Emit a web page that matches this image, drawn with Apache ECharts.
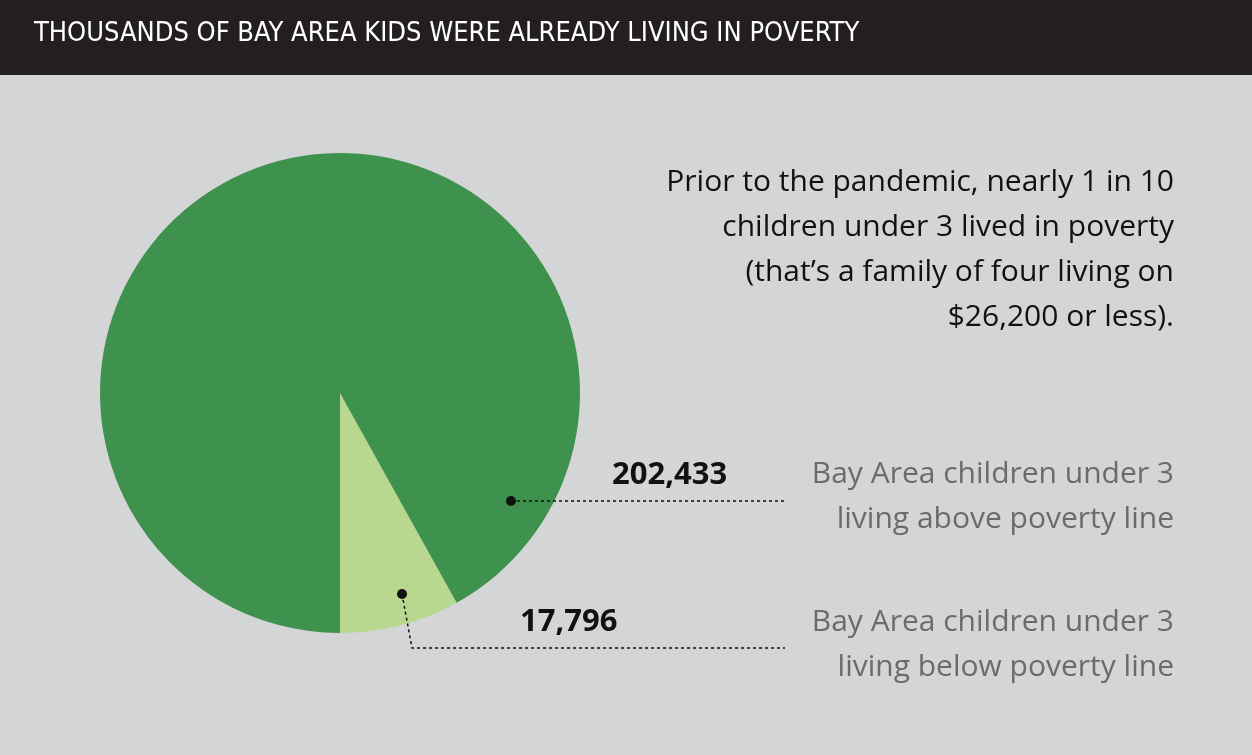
<!DOCTYPE html>
<html>
<head>
<meta charset="utf-8" />
<title>Bay Area kids in poverty</title>
<script src="https://cdn.jsdelivr.net/npm/echarts@6/dist/echarts.min.js"></script>
<style>
  html, body { margin: 0; padding: 0; background: #d4d5d7; }
  #main { width: 1252px; height: 755px; }
</style>
</head>
<body>
<div id="main"></div>
<script type="text/javascript">
var categories = ['Below poverty line', 'Above poverty line'];
var values = [17796, 202433];
var valueLabels = ['17,796', '202,433'];
var colors = ['#b8d890', '#3e924d'];

var chart = echarts.init(document.getElementById('main'));

var txt = '#6b6b6b';
var option = {
  backgroundColor: '#d4d5d7',
  animation: false,
  series: [{
    type: 'pie',
    center: [340, 393],
    radius: 240,
    startAngle: 270,
    clockwise: false,
    label: { show: false },
    labelLine: { show: false },
    itemStyle: { borderWidth: 0 },
    data: categories.map(function (c, i) {
      return { name: c, value: values[i], itemStyle: { color: colors[i] } };
    })
  }],
  graphic: [
    { type: 'rect', z: 100, shape: { x: 0, y: 0, width: 1252, height: 75 }, style: { fill: '#231f20' } },
    { type: 'text', z: 101, x: 34, y: 20, style: {
      text: 'THOUSANDS OF BAY AREA KIDS WERE ALREADY LIVING IN POVERTY',
      fill: '#fff', font: '27px "DejaVu Sans Condensed", "Liberation Sans Narrow", sans-serif' } },
    { type: 'text', z: 100, x: 1174, y: 160, style: {
      text: 'Prior to the pandemic, nearly 1 in 10\nchildren under 3 lived in poverty\n(that\u2019s a family of four living on\n$26,200 or less).',
      align: 'right', fill: '#111', lineHeight: 45, font: '500 30px "Open Sans", sans-serif' } },
    { type: 'text', z: 100, x: 1174, y: 452, style: {
      text: 'Bay Area children under 3\nliving above poverty line', align: 'right', fill: txt, lineHeight: 45,
      font: '500 30px "Open Sans", sans-serif' } },
    { type: 'text', z: 100, x: 1174, y: 600, style: {
      text: 'Bay Area children under 3\nliving below poverty line', align: 'right', fill: txt, lineHeight: 45,
      font: '500 30px "Open Sans", sans-serif' } },
    { type: 'text', z: 100, x: 612, y: 460, style: { text: valueLabels[1], fill: '#111', font: 'bold 31px "Open Sans", sans-serif' } },
    { type: 'text', z: 100, x: 520, y: 607, style: { text: valueLabels[0], fill: '#111', font: 'bold 31px "Open Sans", sans-serif' } },
    { type: 'polyline', z: 100, shape: { points: [[511, 501], [785, 501]] }, style: { stroke: '#111', lineWidth: 1.5, lineDash: [3, 3] } },
    { type: 'circle', z: 101, shape: { cx: 511, cy: 501, r: 5 }, style: { fill: '#111' } },
    { type: 'polyline', z: 100, shape: { points: [[402, 594], [412, 648], [785, 648]] }, style: { stroke: '#111', lineWidth: 1.5, lineDash: [3, 3], fill: null } },
    { type: 'circle', z: 101, shape: { cx: 402, cy: 594, r: 5 }, style: { fill: '#111' } }
  ]
};
chart.setOption(option);
</script>
</body>
</html>
